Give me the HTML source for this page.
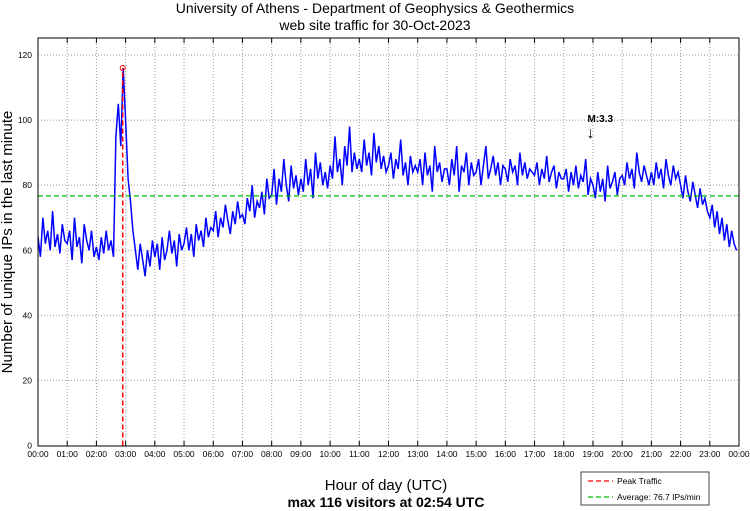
<!DOCTYPE html>
<html><head><meta charset="utf-8"><style>
body{margin:0;background:#fff;}
svg{display:block;font-family:"Liberation Sans",sans-serif;}
</style></head><body>
<svg id="chart" width="750" height="511">
<text x="375" y="13" text-anchor="middle" font-size="14">University of Athens - Department of Geophysics &amp; Geothermics</text>
<text x="375" y="30" text-anchor="middle" font-size="14">web site traffic for 30-Oct-2023</text>
<g id="grid"></g>
<g id="series"></g>
<rect x="38" y="38" width="701" height="408" fill="none" stroke="#000" stroke-width="1"/>
<g id="axes"></g>
<text transform="translate(12,242) rotate(-90)" text-anchor="middle" font-size="15">Number of unique IPs in the last minute</text>
<text x="386" y="490" text-anchor="middle" font-size="15">Hour of day (UTC)</text>
<text x="386" y="507" text-anchor="middle" font-size="14" font-weight="bold">max 116 visitors at 02:54 UTC</text>
<g>
<rect x="581" y="472" width="128" height="33" fill="#fff" stroke="#444"/>
<line x1="588" y1="481" x2="613" y2="481" stroke="#f00" stroke-dasharray="5,3" stroke-width="1.2"/>
<text x="617" y="484" font-size="8.5">Peak Traffic</text>
<line x1="588" y1="497" x2="613" y2="497" stroke="#0b0" stroke-dasharray="5,3" stroke-width="1.2"/>
<text x="617" y="500" font-size="8.5">Average: 76.7 IPs/min</text>
</g>
</svg>
<script>
const hourLabels=["00:00","01:00","02:00","03:00","04:00","05:00","06:00","07:00","08:00","09:00","10:00","11:00","12:00","13:00","14:00","15:00","16:00","17:00","18:00","19:00","20:00","21:00","22:00","23:00","00:00"];
const yTicks=[0,20,40,60,80,100,120];
const sampleMinutes=5;
const visitors=[
64,58,70,62,66,60,72,61,65,59,68,63,
62,66,57,70,61,64,56,68,63,60,66,58,
61,57,64,59,66,60,63,58,95,105,92,116,
100,82,75,66,60,54,62,57,52,60,55,63,
58,62,54,64,57,60,66,59,63,55,65,60,
62,67,60,65,58,68,63,66,61,70,64,67,
66,72,64,70,67,74,69,65,72,68,75,70,
71,68,76,72,80,70,75,73,78,71,82,76,
77,85,74,82,78,88,80,75,86,79,83,77,
82,78,88,80,85,76,90,82,87,80,84,79,
86,82,95,84,88,80,92,86,98,84,90,85,
88,84,94,86,90,83,96,87,92,85,89,84,
86,90,82,88,85,94,83,87,80,89,84,86,
84,88,80,90,83,86,78,92,84,87,81,85,
85,80,88,83,92,78,86,84,90,80,87,83,
84,88,80,86,92,82,85,89,83,87,80,86,
85,81,88,84,86,80,90,83,87,82,85,84,
83,87,80,85,82,89,81,84,86,79,84,82,
82,85,78,84,80,86,79,83,81,88,77,82,
80,76,84,78,82,75,86,79,81,84,77,82,
83,80,87,82,85,79,90,84,81,86,83,80,
84,80,87,82,85,79,88,83,80,86,82,84,
80,76,83,78,75,81,77,73,79,74,76,72,
70,74,67,72,65,70,63,68,61,66,62,60];
const average=76.7;
const peakMinute=174, peakValue=116;
const markerMinute=1135, markerLabel="M:3.3";

const NS="http://www.w3.org/2000/svg";
const X0=38,X1=739,Y0=445.5,YT=55;
const xs=m=>X0+(X1-X0)*m/1440;
const ys=v=>Y0-(Y0-YT)*v/120;
function mk(t,a,p){const e=document.createElementNS(NS,t);for(const k in a)e.setAttribute(k,a[k]);p.appendChild(e);return e;}
const grid=document.getElementById('grid'),axes=document.getElementById('axes'),ser=document.getElementById('series');
yTicks.forEach(v=>{
  if(v>0){const g=mk('line',{x1:X0,x2:X1,y1:ys(v),y2:ys(v),stroke:'#999','stroke-dasharray':'1,2'},grid);
  
  }
  const t=mk('text',{x:X0-6,y:ys(v)+3,'text-anchor':'end','font-size':'8.5'},axes);t.textContent=v;
  
  
});
hourLabels.forEach((h,i)=>{
  const x=xs(i*60);
  if(i>0&&i<24){const g=mk('line',{x1:x,x2:x,y1:38,y2:446,stroke:'#999','stroke-dasharray':'1,2'},grid);
  
  
  mk('line',{x1:x,x2:x,y1:446,y2:441,stroke:'#000'},axes);mk('line',{x1:x,x2:x,y1:38,y2:43,stroke:'#000'},axes);}
  const t=mk('text',{x:x,y:457,'text-anchor':'middle','font-size':'8.5'},axes);t.textContent=h;
  
  
});
const pts=visitors.map((v,i)=>xs(i*sampleMinutes).toFixed(1)+','+ys(v).toFixed(1)).join(' ');
const pl=mk('polyline',{points:pts,fill:'none',stroke:'#0000ff','stroke-width':'1.5'},ser);


const av=mk('line',{x1:X0,x2:X1,y1:ys(average),y2:ys(average),stroke:'#00bb00','stroke-dasharray':'5,3','stroke-width':'1.3'},ser);


const pk=mk('line',{x1:xs(peakMinute),x2:xs(peakMinute),y1:ys(0),y2:ys(peakValue),stroke:'#ff0000','stroke-dasharray':'5,3','stroke-width':'1.5'},ser);


const pc=mk('circle',{cx:xs(peakMinute),cy:ys(peakValue),r:2.5,fill:'none',stroke:'#f00'},ser);


const mx=xs(markerMinute);
const mt=mk('text',{x:mx-3,y:122,'font-size':'10','font-weight':'bold'},ser);mt.textContent=markerLabel;


const ma=mk('text',{x:mx,y:138,'text-anchor':'middle','font-size':'16'},ser);ma.textContent='↓';


</script>
</body></html>
